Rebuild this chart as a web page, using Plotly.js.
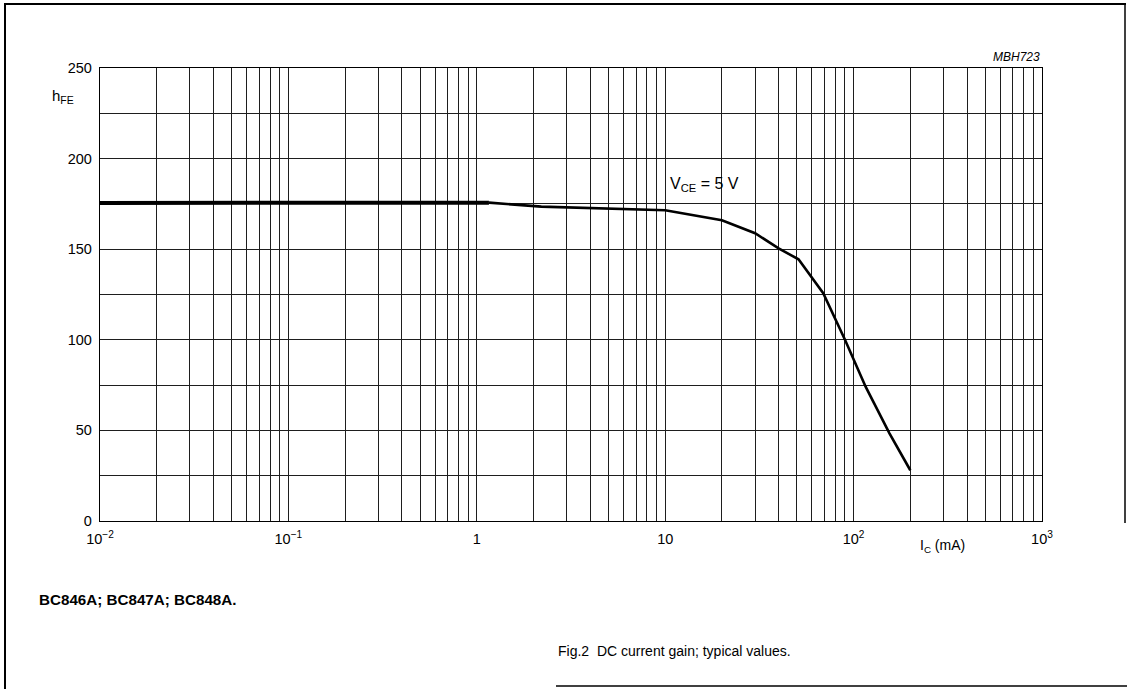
<!DOCTYPE html>
<html>
<head>
<meta charset="utf-8">
<script src="https://cdn.plot.ly/plotly-3.0.1.min.js"></script>
<style>html,body{margin:0;padding:0;background:#fff;}#chart{width:1127px;height:689px;}</style>
</head>
<body>
<div id="chart"></div>
<script>
// ---- data ----
const icFlat = [0.01, 0.03, 0.1, 0.3, 1.0, 1.16];
const hfeFlat = [175.5, 175.6, 175.7, 175.8, 175.8, 175.7];
const icDrop = [1.16, 2.2, 10, 20, 30, 40, 51, 69, 90, 116, 155, 200];
const hfeDrop = [175.7, 173.5, 171.5, 166, 158.8, 150.5, 144.4, 125.7, 100, 74, 48.4, 28];

// ---- tick labels ----
const xDecades = [0.01, 0.1, 1, 10, 100, 1000];
const xDecadeLabels = ['10<sup>\u22122</sup>', '10<sup>\u22121</sup>', '1', '10', '10<sup>2</sup>', '10<sup>3</sup>'];
const yGridVals = [0, 25, 50, 75, 100, 125, 150, 175, 200, 225, 250];
const yLabelVals = [0, 50, 100, 150, 200, 250];

// build tick arrays (gridlines at every 1..9 per decade)
const xTickVals = [], xTickText = [];
for (let d = 0; d < xDecades.length; d++) {
  const base = xDecades[d];
  const lim = (d === xDecades.length - 1) ? 1 : 9;
  for (let m = 1; m <= lim; m++) {
    xTickVals.push(base * m);
    xTickText.push(m === 1 ? xDecadeLabels[d] : '');
  }
}
const yTickText = yGridVals.map(v => yLabelVals.indexOf(v) >= 0 ? String(v) : '');

const L = 100, R = 1042, T = 68, B = 521, W = 1127, H = 689;
const px = x => (x - L) / (R - L);
const py = y => (B - y) / (B - T);

const fontFam = '"Liberation Sans", Arial, Helvetica, sans-serif';

const traces = [
  {x: icFlat, y: hfeFlat, mode: 'lines', line: {color: '#000', width: 4}, hoverinfo: 'skip'},
  {x: icDrop, y: hfeDrop, mode: 'lines', line: {color: '#000', width: 2.6}, hoverinfo: 'skip'}
];

const gridColor = '#1e1e1e';
const layout = {
  width: W, height: H,
  margin: {l: L, r: W - R, t: T, b: H - B, pad: 0},
  paper_bgcolor: '#fff', plot_bgcolor: '#fff',
  showlegend: false,
  font: {family: fontFam, color: '#000', size: 14},
  xaxis: {
    type: 'log', range: [-2, 3], tickmode: 'array', tickvals: xTickVals, ticktext: xTickText,
    showgrid: true, gridcolor: gridColor, gridwidth: 1, ticks: '', zeroline: false,
    showline: true, linecolor: '#000', linewidth: 1.2, mirror: true, ticklabelstandoff: 4,
    tickfont: {family: fontFam, size: 14.5, color: '#000'}, fixedrange: true
  },
  yaxis: {
    range: [0, 250], tickmode: 'array', tickvals: yGridVals, ticktext: yTickText,
    showgrid: true, gridcolor: gridColor, gridwidth: 1, ticks: '', zeroline: false,
    showline: true, linecolor: '#000', linewidth: 1.2, mirror: true, ticklabelstandoff: 4,
    tickfont: {family: fontFam, size: 14.5, color: '#000'}, fixedrange: true
  },
  annotations: [
    {xref: 'paper', yref: 'paper', x: px(50), y: py(96), xanchor: 'left', yanchor: 'middle', showarrow: false,
     text: 'h<sub>FE</sub>', font: {size: 15, family: fontFam}},
    {xref: 'paper', yref: 'paper', x: px(668), y: py(184), xanchor: 'left', yanchor: 'middle', showarrow: false,
     text: 'V<sub>CE</sub> = 5 V', font: {size: 16, family: fontFam}},
    {xref: 'paper', yref: 'paper', x: px(1042), y: py(57), xanchor: 'right', yanchor: 'middle', showarrow: false,
     text: '<i>MBH723</i>', font: {size: 12, family: fontFam}},
    {xref: 'paper', yref: 'paper', x: px(918), y: py(546), xanchor: 'left', yanchor: 'middle', showarrow: false,
     text: 'I<sub>C</sub> (mA)', font: {size: 14, family: fontFam}},
    {xref: 'paper', yref: 'paper', x: px(37), y: py(599), xanchor: 'left', yanchor: 'middle', showarrow: false,
     text: '<b>BC846A; BC847A; BC848A.</b>', font: {size: 15.2, family: fontFam}},
    {xref: 'paper', yref: 'paper', x: px(556), y: py(651), xanchor: 'left', yanchor: 'middle', showarrow: false,
     text: 'Fig.2  DC current gain; typical values.', font: {size: 14, family: fontFam}}
  ],
  shapes: [
    {type: 'line', xref: 'paper', yref: 'paper', x0: px(5), x1: px(5), y0: py(3), y1: py(689), line: {color: '#000', width: 2}},
    {type: 'line', xref: 'paper', yref: 'paper', x0: px(4), x1: px(1126), y0: py(4), y1: py(4), line: {color: '#000', width: 2}},
    {type: 'line', xref: 'paper', yref: 'paper', x0: px(1125), x1: px(1125), y0: py(3), y1: py(523), line: {color: '#000', width: 1.5}},
    {type: 'line', xref: 'paper', yref: 'paper', x0: px(556), x1: px(1127), y0: py(686), y1: py(686), line: {color: '#000', width: 1.5}}
  ]
};

Plotly.newPlot('chart', traces, layout, {staticPlot: true, displayModeBar: false});
</script>
</body>
</html>
